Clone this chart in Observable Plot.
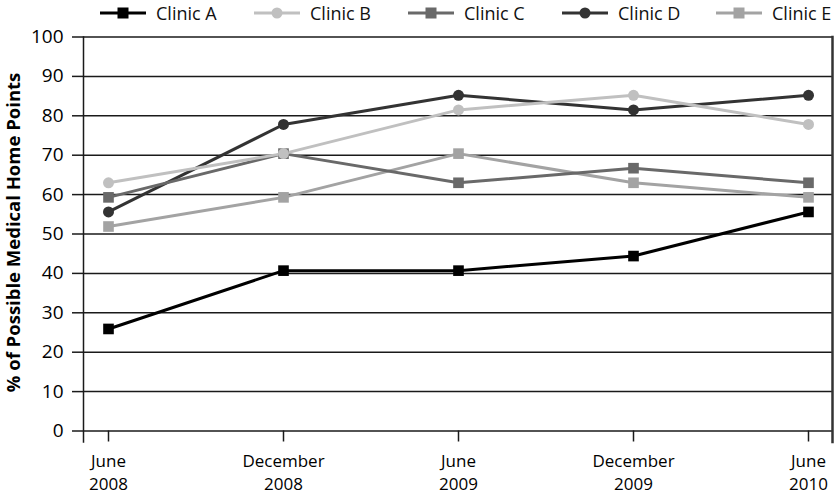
<!DOCTYPE html>
<html><head><meta charset="utf-8">
<script src="https://cdn.jsdelivr.net/npm/d3@7"></script>
<script src="https://cdn.jsdelivr.net/npm/@observablehq/plot@0.6"></script>
<style>
body{margin:0;background:#fff;font-family:"Open Sans",sans-serif;}
#legend{position:relative;height:25px;width:836px;}
.item{position:absolute;top:0;height:25px;display:flex;align-items:center;font-size:18px;color:#111;white-space:nowrap;}
.item svg{margin-right:10px;}
#chart svg{overflow:visible;}
</style></head><body>
<div id="legend"></div><div id="chart"></div>
<script>
const periods = ["June\n2008", "December\n2008", "June\n2009", "December\n2009", "June\n2010"];
const clinicNames = ["Clinic A", "Clinic B", "Clinic C", "Clinic D", "Clinic E"];
const clinicA = [25.9, 40.7, 40.7, 44.4, 55.6];
const clinicB = [63.0, 70.4, 81.5, 85.2, 77.8];
const clinicC = [59.3, 70.4, 63.0, 66.7, 63.0];
const clinicD = [55.6, 77.8, 85.2, 81.5, 85.2];
const clinicE = [51.9, 59.3, 70.4, 63.0, 59.3];
const clinicColors = ["#000000", "#c0c0c0", "#696969", "#333333", "#a3a3a3"];
const clinicSymbols = ["square", "circle", "square", "circle", "square"];
const yTicks = [0, 10, 20, 30, 40, 50, 60, 70, 80, 90, 100];
const yLabel = "% of Possible Medical Home Points";

const series = [clinicA, clinicB, clinicC, clinicD, clinicE];
const rows = [];
// draw later clinics first so Clinic A ends on top
for (let i = series.length - 1; i >= 0; i--) {
  periods.forEach((p, j) => rows.push({clinic: clinicNames[i], period: p, value: series[i][j], shape: clinicSymbols[i]}));
}

// Legend
const legend = document.getElementById("legend");
clinicNames.forEach((name, i) => {
  const item = document.createElement("div");
  item.className = "item";
  item.style.left = (100 + 154 * i) + "px";
  const marker = clinicSymbols[i] === "square"
    ? `<rect x="17.5" y="4.5" width="11" height="11" fill="${clinicColors[i]}"/>`
    : `<circle cx="23" cy="10" r="5.5" fill="${clinicColors[i]}"/>`;
  item.innerHTML = `<svg width="46" height="20"><line x1="0" x2="46" y1="10" y2="10" stroke="${clinicColors[i]}" stroke-width="3"/>${marker}</svg><span>${name}</span>`;
  legend.appendChild(item);
});

const chart = Plot.plot({
  width: 836,
  height: 470,
  marginTop: 11.5,
  marginBottom: 64.5,
  marginLeft: 83,
  marginRight: 4,
  style: {fontFamily: "Open Sans", fontSize: "18px", color: "#000", background: "#fff"},
  x: {type: "point", domain: periods, padding: 0.13},
  y: {domain: [0, 100]},
  color: {domain: clinicNames, range: clinicColors},
  marks: [
    Plot.ruleY(yTicks, {stroke: "#1a1a1a", strokeWidth: 1.5}),
    Plot.axisY({ticks: yTicks, tickSize: 11, tickPadding: 9, stroke: "#1a1a1a", strokeWidth: 1.5, fontSize: 19, label: null}),
    Plot.axisX({tickSize: 11, tickPadding: 9, stroke: "#1a1a1a", strokeWidth: 1.5, fontSize: 17, lineHeight: 1.33, label: null}),
    Plot.frame({anchor: "left", insetBottom: -11, stroke: "#1a1a1a", strokeWidth: 1.5}),
    Plot.frame({anchor: "right", insetBottom: -11, stroke: "#333", strokeWidth: 2.5}),
    Plot.text([yLabel], {frameAnchor: "left", textAnchor: "middle", rotate: -90, dx: -69, dy: -1.5, fontWeight: "bold", fontSize: 18.5, fill: "#000"}),
    Plot.line(rows, {x: "period", y: "value", z: "clinic", stroke: "clinic", strokeWidth: 3}),
    Plot.dot(rows.filter(d => d.shape === "square"), {x: "period", y: "value", symbol: "square", fill: "clinic", r: 6}),
    Plot.dot(rows.filter(d => d.shape === "circle"), {x: "period", y: "value", symbol: "circle", fill: "clinic", r: 5.5})
  ]
});
document.getElementById("chart").appendChild(chart);
</script>
</body></html>
